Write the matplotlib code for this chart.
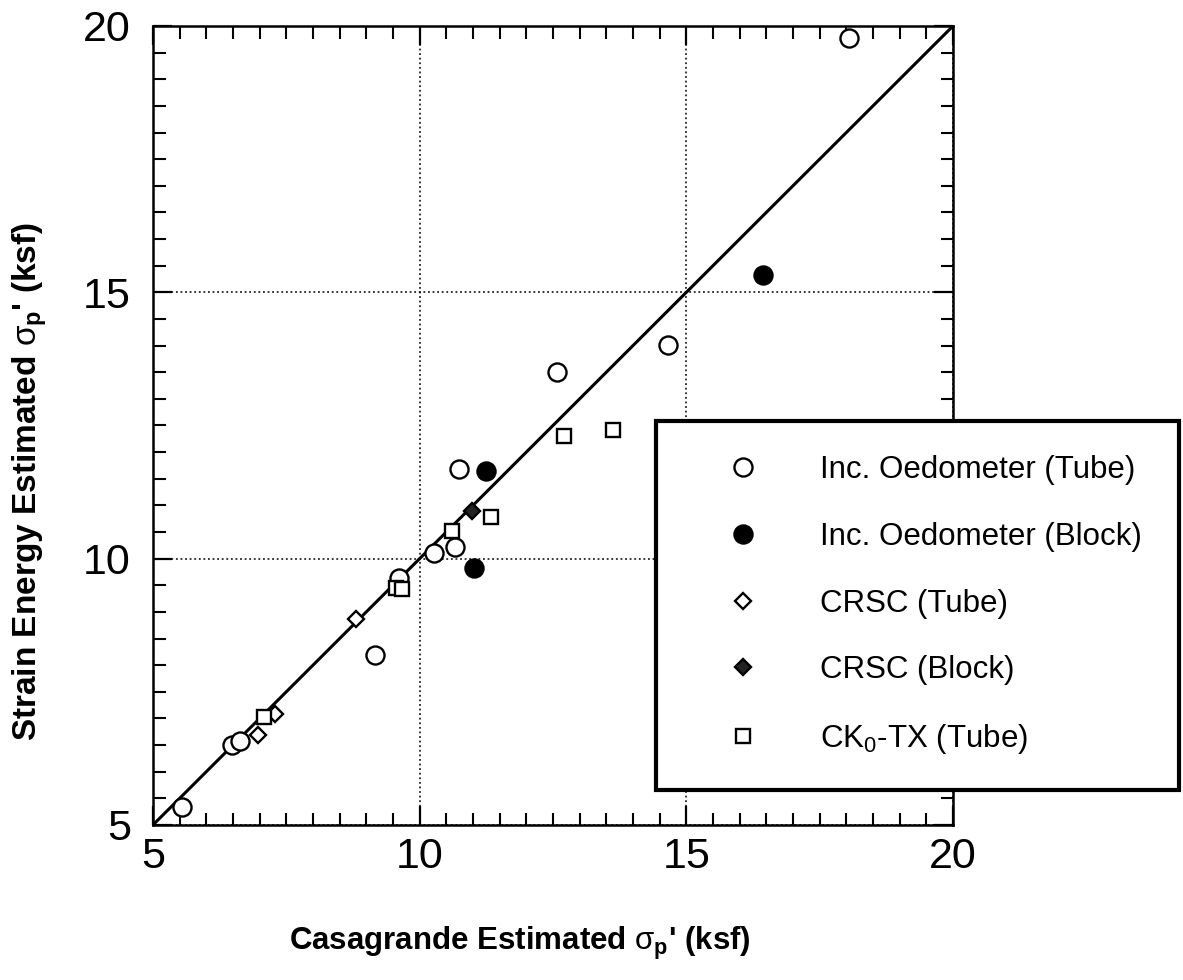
import matplotlib
matplotlib.use("Agg")
import matplotlib.pyplot as plt
from matplotlib.ticker import MultipleLocator

plt.rcParams["font.family"] = ["Liberation Sans", "DejaVu Sans"]
plt.rcParams["mathtext.fontset"] = "custom"
plt.rcParams["mathtext.rm"] = "Liberation Sans"
plt.rcParams["mathtext.it"] = "Liberation Sans"
plt.rcParams["mathtext.bf"] = "Liberation Sans:bold"

# Preconsolidation stress estimates (ksf): Casagrande (x) vs strain energy (y)
inc_tube_x = [5.55, 6.48, 6.63, 9.17, 9.62, 10.27, 10.67, 10.74, 12.58, 14.66, 18.05]
inc_tube_y = [5.33, 6.50, 6.58, 8.20, 9.63, 10.11, 10.22, 11.68, 13.50, 14.01, 19.77]

inc_block_x = [11.01, 11.25, 16.43]
inc_block_y = [9.83, 11.65, 15.32]

crsc_tube_x = [6.97, 7.28, 8.81]
crsc_tube_y = [6.69, 7.08, 8.86]

crsc_block_x = [10.98]
crsc_block_y = [10.90]

ck0_tube_x = [7.08, 9.56, 9.66, 10.60, 11.33, 12.70, 13.63]
ck0_tube_y = [7.02, 9.45, 9.43, 10.51, 10.79, 12.30, 12.41]

# 1:1 reference line
unity_x = [5, 20]
unity_y = [5, 20]

axis_ticks = [5, 10, 15, 20]
axis_ticklabels = ["5", "10", "15", "20"]

fig = plt.figure(figsize=(11.83, 9.80), dpi=100)
ax = fig.add_axes([0.1293, 0.1582, 0.8056 - 0.1293, 0.9735 - 0.1582])

ax.plot(unity_x, unity_y, color="black", lw=2.2, zorder=2)

ax.plot(inc_tube_x, inc_tube_y, "o", ms=13, mfc="white", mec="black", mew=1.7,
        ls="none", label="Inc. Oedometer (Tube)", zorder=3, clip_on=False)
ax.plot(inc_block_x, inc_block_y, "o", ms=13, mfc="black", mec="black", mew=1.7,
        ls="none", label="Inc. Oedometer (Block)", zorder=3)
ax.plot(crsc_tube_x, crsc_tube_y, "D", ms=8.0, mfc="white", mec="black", mew=1.7,
        ls="none", label="CRSC (Tube)", zorder=3)
ax.plot(crsc_block_x, crsc_block_y, "D", ms=8.0, mfc="#222222", mec="black", mew=1.7,
        ls="none", label="CRSC (Block)", zorder=3)
ax.plot(ck0_tube_x, ck0_tube_y, "s", ms=10.5, mfc="white", mec="black", mew=1.7,
        ls="none", label=r"CK$_0$-TX (Tube)", zorder=3)

ax.set_xlim(5, 20)
ax.set_ylim(5, 20)
ax.set_xticks(axis_ticks)
ax.set_yticks(axis_ticks)
ax.set_xticklabels(axis_ticklabels)
ax.set_yticklabels(axis_ticklabels)
ax.xaxis.set_minor_locator(MultipleLocator(0.5))
ax.yaxis.set_minor_locator(MultipleLocator(0.5))

ax.tick_params(which="both", direction="in", top=True, right=True, color="black")
ax.tick_params(which="major", length=14, width=1.6, labelsize=31)
ax.tick_params(which="minor", length=9, width=1.5)
ax.tick_params(axis="x", which="major", pad=9)
ax.tick_params(axis="y", which="major", pad=16)

for sp in ax.spines.values():
    sp.set_linewidth(1.8)

ax.grid(True, which="major", color="black", linestyle=(0, (1.2, 1.8)), linewidth=1.1)
ax.set_axisbelow(True)

label_font = dict(family=["Liberation Sans Narrow", "Liberation Sans"], weight="bold")
ax.set_xlabel(r"Casagrande Estimated $\sigma_\mathregular{p}$' (ksf)", size=22.5, **label_font)
ax.set_ylabel(r"Strain Energy Estimated $\sigma_\mathregular{p}$' (ksf)", size=24, **label_font)
ax.xaxis.set_label_coords(0.458, -0.125)
ax.yaxis.set_label_coords(-0.13, 0.43)

leg = fig.legend(loc="upper left",
                 bbox_to_anchor=(0.5545, 0.1949, 0.4421, 0.3755),
                 mode="expand", fontsize=22.5, frameon=True, fancybox=False,
                 borderpad=1.1, labelspacing=1.17, handlelength=3.4,
                 handletextpad=0.75, borderaxespad=0.0, numpoints=1)
frame = leg.get_frame()
frame.set_edgecolor("black")
frame.set_linewidth(3.0)
frame.set_facecolor("white")
frame.set_alpha(1.0)

fig.savefig("out.png", dpi=100)
